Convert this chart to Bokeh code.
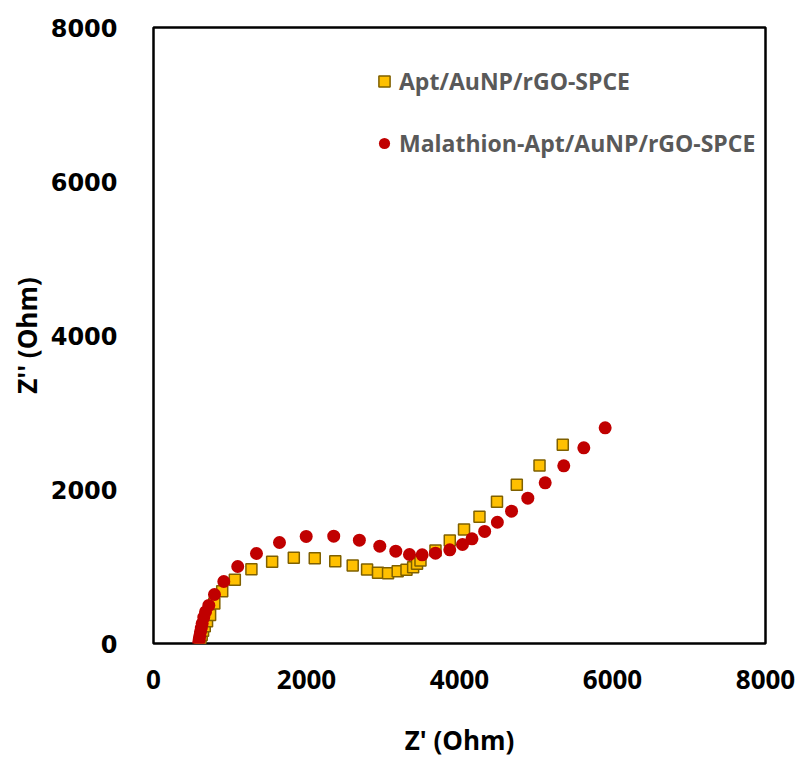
from bokeh.plotting import figure
from bokeh.models import Range1d, FixedTicker, Legend, LegendItem
from bokeh.embed import file_html
from bokeh.resources import INLINE

# Apt/AuNP/rGO-SPCE (squares)
apt_zre = [605, 615, 630, 648, 670, 700, 740, 795, 898, 1063, 1280, 1551, 1834, 2108, 2376, 2604,
           2792, 2935, 3066, 3192, 3307, 3394, 3445, 3490, 3686, 3873, 4059, 4261, 4490, 4749, 5046, 5350]
apt_zim = [15, 60, 110, 165, 225, 290, 370, 520, 680, 827, 965, 1061, 1113, 1108, 1069, 1013,
           961, 918, 913, 939, 957, 991, 1035, 1078, 1208, 1338, 1481, 1645, 1840, 2061, 2312, 2580]

# Malathion-Apt/AuNP/rGO-SPCE (circles)
mal_zre = [592, 598, 605, 614, 625, 636, 657, 680, 723, 797, 919, 1101, 1346, 1647, 1996, 2356, 2691,
           2958, 3167, 3346, 3512, 3686, 3873, 4039, 4163, 4329, 4495, 4680, 4893, 5120, 5363, 5625, 5904]
mal_zim = [15, 55, 100, 150, 200, 260, 340, 410, 494, 636, 805, 1000, 1169, 1312, 1390, 1394, 1342,
           1264, 1199, 1156, 1152, 1173, 1217, 1286, 1359, 1455, 1575, 1718, 1887, 2087, 2307, 2541, 2801]

ticks = [0, 2000, 4000, 6000, 8000]
series_names = ["Apt/AuNP/rGO-SPCE", "Malathion-Apt/AuNP/rGO-SPCE"]

W, H = 800, 762
FL, FR, FT, FB = 153, 765, 27, 643
p = figure(width=W, height=H, output_backend="svg", toolbar_location=None,
           x_range=Range1d(0, 8000), y_range=Range1d(0, 8000),
           min_border_left=FL, min_border_right=W - FR,
           min_border_top=FT, min_border_bottom=H - FB)
p.xgrid.visible = False
p.ygrid.visible = False
p.outline_line_color = "black"
p.outline_line_width = 2.5
p.background_fill_color = "white"
p.border_fill_color = "white"

for ax in (p.xaxis[0], p.yaxis[0]):
    ax.ticker = FixedTicker(ticks=ticks)
    ax.axis_line_color = None
    ax.major_tick_line_color = None
    ax.minor_tick_line_color = None
    ax.major_label_text_font_style = "bold"
    ax.major_label_text_color = "black"
    ax.axis_label_text_font_style = "bold"
    ax.axis_label_text_color = "black"
    ax.axis_label_text_font = "Open Sans"
    ax.axis_label_text_font_size = "26px"

p.xaxis.major_label_text_font = "Open Sans"
p.xaxis.major_label_text_font_size = "26px"
p.xaxis.major_label_standoff = 20
p.xaxis.axis_label = "Z' (Ohm)"
p.xaxis.axis_label_standoff = 30

p.yaxis.major_label_text_font = "DejaVu Sans"
p.yaxis.major_label_text_font_size = "24px"
p.yaxis.major_label_standoff = 30
p.yaxis.axis_label = "Z'' (Ohm)"
p.yaxis.axis_label_standoff = 3

r1 = p.scatter(apt_zre, apt_zim, marker="square", size=11, fill_color="#FFC000",
               line_color="#7F6000", line_width=1.5)
r2 = p.scatter(mal_zre, mal_zim, marker="circle", size=13, fill_color="#C00000",
               line_color=None)

legend = Legend(items=[LegendItem(label=series_names[0], renderers=[r1]),
                       LegendItem(label=series_names[1], renderers=[r2])],
                location=(217, 484), orientation="vertical",
                glyph_width=28, glyph_height=28, label_height=28, spacing=30,
                padding=0, margin=0, label_standoff=1,
                label_text_font="Open Sans", label_text_font_style="bold",
                label_text_font_size="23px", label_text_color="#595959",
                background_fill_alpha=0, border_line_color=None)
p.add_layout(legend)

open("out.html", "w").write(file_html(p, INLINE))
